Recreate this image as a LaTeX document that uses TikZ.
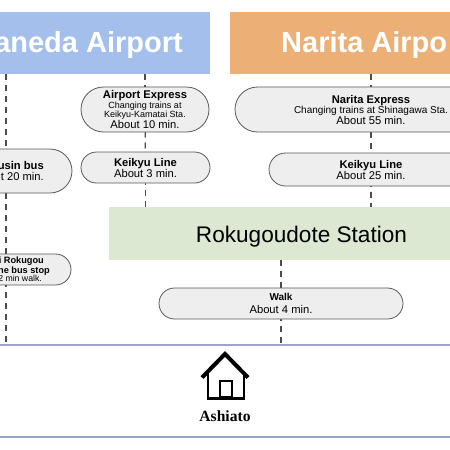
\documentclass[tikz,border=0pt]{standalone}
\usepackage{fontspec}
\setmainfont{Liberation Sans}
\newfontfamily\serifbold[Scale=1]{Liberation Serif}
\usetikzlibrary{shapes.misc,backgrounds}
\definecolor{hanedablue}{HTML}{A4BFEC}
\definecolor{naritaorange}{HTML}{ECB076}
\definecolor{stationgreen}{HTML}{DDE8D3}
\definecolor{pillgray}{HTML}{EEEEEE}
\definecolor{linegray}{HTML}{9AA5C8}
\newcommand{\headfont}{\fontsize{11.2}{10}\selectfont\bfseries}
\newcommand{\notefont}{\fontsize{9}{8.8}\selectfont}
\newcommand{\timefont}{\fontsize{11.2}{10}\selectfont}
\tikzset{
  airport/.style={rectangle,text=white,inner sep=0pt,
    font=\fontsize{29}{32}\selectfont\bfseries},
  pill/.style={rounded rectangle,draw=black!65,line width=0.8pt,fill=pillgray,inner sep=0pt,align=center},
  rowgap/.style={font=\fontsize{11.2}{#1}\selectfont},
  pilltext/.style={inner sep=0pt,align=right,anchor=east},
  route/.style={dashed,dash pattern=on 6pt off 5pt,line width=1.2pt,black!70},
  border/.style={line width=1.2pt,linegray}
}
\begin{document}
\begin{tikzpicture}[x=1pt,y=-1pt]
\useasboundingbox (0,0) rectangle (450,450);
\clip (0,0) rectangle (450,450);
% airports
\fill[hanedablue] (-66,12) rectangle (210,74);
\fill[naritaorange] (230,12) rectangle (518,74);
\node[airport,anchor=east] (haneda) at (183,45.5) {aneda Airport};
\node[airport,anchor=west] (narita) at (281,45.5) {Narita Airpo};
\coordinate (hanedatop) at (6,74);
\coordinate (expresstop) at (145,74);
\coordinate (naritatop) at (371,74);
% station
\node[fill=stationgreen,minimum width=385pt,minimum height=53pt,inner sep=0pt,
  font=\fontsize{22.6}{25}\selectfont] (station) at (301.5,233.5) {\raisebox{-8.5pt}[0pt][0pt]{Rokugoudote Station}};
% left route
\node[pill,minimum width=132pt,minimum height=44pt] (bus) at (6,171) {};
\node[pilltext,rowgap=11] (bustext) at (44,171) {{\headfont usin bus}\\t 20 min.};
\node[pill,minimum width=130pt,minimum height=31pt] (stop) at (6,269.5) {};
\node[pilltext,font=\fontsize{9.2}{8.5}\selectfont] (stoptext) at (50,269.5) {{\bfseries i Rokugou\kern6pt}\\{\bfseries ne bus stop}\\{\fontsize{8.7}{8.5}\selectfont 2 min walk.\kern8pt}};
% keikyu route
\node[pill,rowgap=9.1,minimum width=128pt,minimum height=45pt] (express) at (145,109.5) {{\headfont Airport Express}\\{\notefont Changing trains at}\\{\notefont Keikyu-Kamatai Sta.}\\{\timefont About 10 min.}};
\node[pill,rowgap=11,minimum width=129pt,minimum height=31pt] (keikyua) at (145.5,167.5) {{\headfont Keikyu Line}\\{\timefont About 3 min.}};
% narita route
\node[pill,rowgap=10.5,minimum width=272pt,minimum height=45pt] (nex) at (371,109.5) {{\headfont Narita Express}\\{\fontsize{10}{10}\selectfont Changing trains at Shinagawa Sta.}\\{\timefont About 55 min.}};
\node[pill,rowgap=11,minimum width=204pt,minimum height=33pt] (keikyub) at (371,169.5) {{\headfont Keikyu Line}\\{\timefont About 25 min.}};
% walk
\node[pill,rowgap=12.3,minimum width=244pt,minimum height=31pt] (walk) at (281,303.5) {{\fontsize{10}{12.5}\selectfont\bfseries Walk}\\{\timefont About 4 min.}};
% ground lines
\coordinate (groundl) at (0,345);
\coordinate (groundr) at (450,345);
\coordinate (basel) at (0,437);
\coordinate (baser) at (450,437);
\draw[border] (groundl) -- (groundr);
\draw[border] (basel) -- (baser);
% house
\draw[line width=4pt] (202,377.5) -- (225,354) -- (248,377.5);
\draw[line width=2.6pt] (208,372) -- (208,398.5) -- (244,398.5) -- (244,372);
\draw[line width=1.2pt] (220,381) rectangle (232,397);
\node[font=\serifbold\fontsize{15.6}{18}\selectfont\bfseries,inner sep=0pt] (ashiato) at (225,416) {Ashiato};
% routes go behind the pills
\begin{pgfonlayer}{background}
\draw[route] (hanedatop) -- (bus.center);
\draw[route] (bus.center) -- (stop.center);
\draw[route] (stop.center) -- (stop |- groundl);
\draw[route] (expresstop) -- (express.center);
\draw[route] (express.center) -- (keikyua.center);
\draw[route] (keikyua.center) -- (keikyua |- station.north);
\draw[route] (naritatop) -- (nex.center);
\draw[route] (nex.center) -- (keikyub.center);
\draw[route] (keikyub.center) -- (keikyub |- station.north);
\draw[route] (walk |- station.south) -- (walk.center);
\draw[route] (walk.center) -- (walk |- groundl);
\end{pgfonlayer}
\end{tikzpicture}
\end{document}
